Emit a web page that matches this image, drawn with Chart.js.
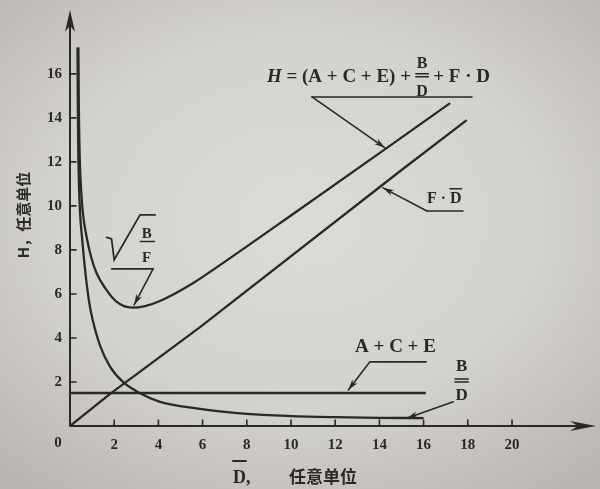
<!DOCTYPE html>
<html>
<head>
<meta charset="utf-8">
<script src="https://cdn.jsdelivr.net/npm/chart.js@4/dist/chart.umd.min.js"></script>
<style>
  html, body { margin: 0; padding: 0; width: 600px; height: 489px; overflow: hidden; }
  body { background: radial-gradient(ellipse 75% 70% at 50% 45%, #dddbd6 0%, #d4d2cd 55%, #b8b5b0 100%); }
  #wrap { position: relative; width: 600px; height: 489px; }
</style>
</head>
<body>
<div id="wrap"><canvas id="c" width="600" height="489"></canvas></div>
<script>
// Tick labels
const xTicks = [2, 4, 6, 8, 10, 12, 14, 16, 18, 20];
const yTicks = [2, 4, 6, 8, 10, 12, 14, 16];

// Total cost H = (A+C+E) + B/D + F·D
const hX = [0.38, 0.40, 0.44, 0.50, 0.58, 0.75, 0.95, 1.20, 1.60, 2.10, 2.80, 3.40, 4.07, 5.58, 6.80, 10.40, 14.18, 17.20];
const hY = [17.2, 14.5, 12.2, 10.8, 9.70, 8.60, 7.70, 6.95, 6.25, 5.65, 5.38, 5.45, 5.68, 6.50, 7.32, 9.85, 12.52, 14.67];

// B / D
const bdX = [0.34, 0.355, 0.375, 0.41, 0.46, 0.54, 0.64, 0.75, 0.88, 1.03, 1.36, 1.81, 2.41, 3.17, 4.07, 5.88, 8.00, 10.00, 12.00, 14.00, 16.00];
const bdY = [17.2, 14.5, 12.5, 10.8, 9.60, 8.60, 7.50, 6.50, 5.55, 4.80, 3.65, 2.70, 1.99, 1.49, 1.10, 0.78, 0.55, 0.45, 0.40, 0.37, 0.36];

// F · D
const fdX = [0, 1.80, 5.90, 14.90, 17.95];
const fdY = [0, 1.45, 4.50, 11.55, 13.90];

// A + C + E
const aceX = [0, 16.1];
const aceY = [1.5, 1.5];

const pts = (xs, ys) => xs.map((x, i) => ({ x: x, y: ys[i] }));

const INK = '#2a2927';
const SERIF = '"Liberation Serif", "DejaVu Serif", serif';
const CJK = '"Noto Sans CJK SC", sans-serif';

function arrowHead(ctx, fx, fy, tx, ty, len, half) {
  const a = Math.atan2(ty - fy, tx - fx);
  ctx.save();
  ctx.translate(tx, ty);
  ctx.rotate(a);
  ctx.beginPath();
  ctx.moveTo(0, 0);
  ctx.lineTo(-len, -half);
  ctx.lineTo(-len * 0.7, 0);
  ctx.lineTo(-len, half);
  ctx.closePath();
  ctx.fill();
  ctx.restore();
}

function leader(ctx, pts, w) {
  ctx.beginPath();
  ctx.moveTo(pts[0][0], pts[0][1]);
  for (let i = 1; i < pts.length; i++) ctx.lineTo(pts[i][0], pts[i][1]);
  ctx.lineWidth = w || 1.6;
  ctx.stroke();
  const n = pts.length;
  arrowHead(ctx, pts[n - 2][0], pts[n - 2][1], pts[n - 1][0], pts[n - 1][1], 11, 3.2);
}

function overbar(ctx, x, w, y, lw) {
  ctx.beginPath();
  ctx.moveTo(x, y);
  ctx.lineTo(x + w, y);
  ctx.lineWidth = lw || 1.5;
  ctx.stroke();
}

const decor = {
  id: 'decor',
  afterDatasetsDraw(chart) {
    const ctx = chart.ctx;
    const xs = chart.scales.x, ys = chart.scales.y;
    const P = (x, y) => [xs.getPixelForValue(x), ys.getPixelForValue(y)];
    const [ox, oy] = P(0, 0);
    const right = chart.chartArea.right, top = chart.chartArea.top;

    ctx.save();
    ctx.strokeStyle = INK;
    ctx.fillStyle = INK;
    ctx.lineCap = 'round';

    // axes
    ctx.lineWidth = 2;
    ctx.beginPath();
    ctx.moveTo(ox, oy); ctx.lineTo(right - 6, oy);
    ctx.moveTo(ox, oy); ctx.lineTo(ox, top + 6);
    ctx.stroke();
    arrowHead(ctx, ox, oy, right, oy, 26, 5);
    arrowHead(ctx, ox, oy, ox, top, 22, 5);

    // inward tick marks
    ctx.lineWidth = 1.6;
    ctx.beginPath();
    xTicks.forEach(v => { const px = xs.getPixelForValue(v); ctx.moveTo(px, oy); ctx.lineTo(px, oy - 6); });
    yTicks.forEach(v => { const py = ys.getPixelForValue(v); ctx.moveTo(ox, py); ctx.lineTo(ox + 6, py); });
    ctx.stroke();

    // origin label
    ctx.font = 'bold 15px ' + SERIF;
    ctx.textAlign = 'center';
    ctx.textBaseline = 'middle';
    ctx.fillText('0', ox - 12, oy + 17);

    // x axis title: D̄，任意单位
    ctx.textBaseline = 'alphabetic';
    ctx.textAlign = 'left';
    ctx.font = 'bold 18px ' + SERIF;
    const dW = ctx.measureText('D').width;
    ctx.fillText('D,', 233, 483);
    overbar(ctx, 233, dW, 461, 1.8);
    ctx.font = 'bold 17px ' + CJK;
    ctx.fillText('任意单位', 289, 483);

    // y axis title: H，任意单位 (rotated)
    ctx.save();
    ctx.translate(23, 215);
    ctx.rotate(-Math.PI / 2);
    ctx.textAlign = 'center';
    ctx.textBaseline = 'middle';
    ctx.font = 'bold 15px ' + CJK;
    ctx.fillText('H，任意单位', 0, 0);
    ctx.restore();

    // formula label for the total curve
    ctx.textAlign = 'left';
    ctx.textBaseline = 'alphabetic';
    let [fx, fy] = P(8.91, 15.64);
    ctx.font = 'italic bold 19px ' + SERIF;
    ctx.fillText('H', fx, fy);
    fx += ctx.measureText('H').width;
    ctx.font = 'bold 19px ' + SERIF;
    const s1 = ' = (A + C + E) + ';
    ctx.fillText(s1, fx, fy);
    fx += ctx.measureText(s1).width;
    ctx.font = 'bold 16px ' + SERIF;
    const bw = ctx.measureText('B').width;
    ctx.textAlign = 'center';
    ctx.fillText('B', fx + bw / 2 + 1, fy - 14);
    ctx.fillText('D', fx + bw / 2 + 1, fy + 14);
    overbar(ctx, fx, bw + 2, fy - 8, 1.3);
    overbar(ctx, fx, bw + 2, fy - 5, 1.3);
    fx += bw + 2;
    ctx.textAlign = 'left';
    ctx.font = 'bold 19px ' + SERIF;
    ctx.fillText(' + F · D', fx, fy);

    let a = P(10.95, 14.95), b = P(18.19, 14.95);
    ctx.lineWidth = 1.6;
    ctx.beginPath(); ctx.moveTo(a[0], a[1]); ctx.lineTo(b[0], b[1]); ctx.stroke();
    leader(ctx, [a, P(14.25, 12.64)]);

    // F·D̄ label
    let [lx, ly] = P(16.15, 10.14);
    ctx.font = 'bold 16px ' + SERIF;
    ctx.fillText('F · D', lx, ly);
    const fdw = ctx.measureText('F · ').width;
    overbar(ctx, lx + fdw, ctx.measureText('D').width, ly - 14);
    a = P(16.15, 9.77); b = P(17.78, 9.77);
    ctx.lineWidth = 1.6;
    ctx.beginPath(); ctx.moveTo(a[0], a[1]); ctx.lineTo(b[0], b[1]); ctx.stroke();
    leader(ctx, [a, P(14.16, 10.82)]);

    // √(B/F) label at the minimum
    ctx.lineWidth = 1.8;
    ctx.beginPath();
    const r = [P(1.66, 8.57), P(1.88, 8.50), P(2.00, 7.55), P(3.17, 9.59), P(3.85, 9.59)];
    ctx.moveTo(r[0][0], r[0][1]);
    r.slice(1).forEach(p => ctx.lineTo(p[0], p[1]));
    ctx.stroke();
    ctx.font = 'bold 15px ' + SERIF;
    ctx.textAlign = 'center';
    let c = P(3.47, 8.55);
    ctx.fillText('B', c[0], c[1]);
    c = P(3.47, 7.47);
    ctx.fillText('F', c[0], c[1]);
    a = P(3.18, 8.38); b = P(3.82, 8.38);
    ctx.lineWidth = 1.4;
    ctx.beginPath(); ctx.moveTo(a[0], a[1]); ctx.lineTo(b[0], b[1]); ctx.stroke();
    a = P(1.88, 7.14); b = P(3.76, 7.14);
    ctx.lineWidth = 1.6;
    ctx.beginPath(); ctx.moveTo(a[0], a[1]); ctx.lineTo(b[0], b[1]); ctx.stroke();
    leader(ctx, [b, P(2.90, 5.50)]);

    // A + C + E label
    ctx.textAlign = 'left';
    ctx.font = 'bold 19px ' + SERIF;
    c = P(12.9, 3.36);
    ctx.fillText('A + C + E', c[0], c[1]);
    a = P(13.57, 2.92); b = P(16.11, 2.92);
    ctx.lineWidth = 1.6;
    ctx.beginPath(); ctx.moveTo(a[0], a[1]); ctx.lineTo(b[0], b[1]); ctx.stroke();
    leader(ctx, [b, a, P(12.59, 1.64)]);

    // B/D̄ label
    ctx.textAlign = 'center';
    ctx.font = 'bold 17px ' + SERIF;
    c = P(17.72, 2.5);
    ctx.fillText('B', c[0], c[1]);
    c = P(17.72, 1.18);
    ctx.fillText('D', c[0], c[1]);
    const w2 = ctx.measureText('B').width + 2;
    let bar = P(17.72, 2.14);
    overbar(ctx, bar[0] - w2 / 2, w2, bar[1]);
    bar = P(17.72, 2.0);
    overbar(ctx, bar[0] - w2 / 2, w2, bar[1]);
    leader(ctx, [P(17.34, 1.1), P(15.24, 0.35)]);

    ctx.restore();
  }
};

const line = (xs, ys, smooth) => ({
  data: pts(xs, ys),
  showLine: true,
  borderColor: INK,
  borderWidth: 2.3,
  pointRadius: 0,
  fill: false,
  cubicInterpolationMode: smooth ? 'monotone' : 'default',
  tension: 0
});

new Chart(document.getElementById('c'), {
  type: 'scatter',
  data: {
    datasets: [
      line(hX, hY, true),
      line(bdX, bdY, true),
      line(fdX, fdY, false),
      line(aceX, aceY, false)
    ]
  },
  options: {
    responsive: false,
    animation: false,
    devicePixelRatio: 1,
    layout: { padding: { top: 10, right: 4, left: 0, bottom: 0 } },
    plugins: { legend: { display: false }, tooltip: { enabled: false } },
    scales: {
      x: {
        type: 'linear', min: 0, max: 23.8,
        grid: { display: false, drawTicks: false },
        border: { display: false },
        afterBuildTicks: s => { s.ticks = xTicks.map(v => ({ value: v })); },
        afterFit: s => { s.height = 63; s.paddingLeft = 0; s.paddingRight = 0; },
        ticks: { font: { family: SERIF, weight: 'bold', size: 15 }, color: INK, padding: 10, maxRotation: 0, autoSkip: false }
      },
      y: {
        type: 'linear', min: 0, max: 18.9,
        grid: { display: false, drawTicks: false },
        border: { display: false },
        afterBuildTicks: s => { s.ticks = yTicks.map(v => ({ value: v })); },
        afterFit: s => { s.width = 70; s.paddingTop = 0; s.paddingBottom = 0; },
        ticks: { font: { family: SERIF, weight: 'bold', size: 15 }, color: INK, padding: 8, autoSkip: false }
      }
    }
  },
  plugins: [decor]
});
</script>
</body>
</html>
